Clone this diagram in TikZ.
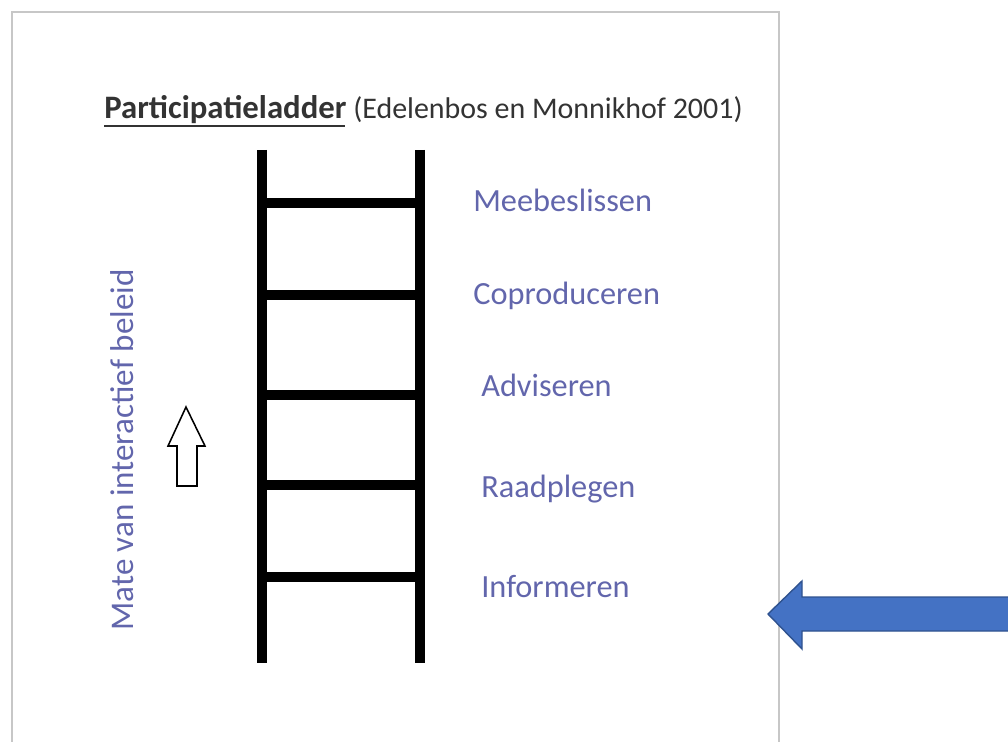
\documentclass[tikz,border=0pt]{standalone}
\usepackage{fontspec}
\setmainfont{Carlito}
\usetikzlibrary{positioning}

\definecolor{steptext}{RGB}{98,102,172}
\definecolor{arrowfill}{RGB}{68,114,196}
\definecolor{arrowline}{RGB}{47,82,143}

\tikzset{
  rail/.style={line width=7pt},
  rung/.style={line width=6.5pt},
  steplabel/.style={text=steptext, font=\fontsize{23}{27}\selectfont, anchor=base west, inner sep=0pt},
}

\begin{document}
\begin{tikzpicture}[x=0.025cm, y=-0.025cm]
  \useasboundingbox (0,0) rectangle (1008,742);

  % page with its shadow edge
  \draw[black!22, line width=1.3pt] (12,742) -- (12,12) -- (779,12) -- (779,742);

  % title
  \node[anchor=base west, inner sep=0pt, text=black!80] (title) at (104,119)
    {{\fontsize{23.3}{27}\selectfont\textbf{Participatieladder}}{\fontsize{21.3}{25}\selectfont\ (Edelenbos en Monnikhof 2001)}};
  \draw[black!80, line width=1.4pt] ([yshift=-5pt]title.base west) -- ++(241,0);

  % ladder
  \coordinate (rail_l_top) at (262,150);
  \coordinate (rail_l_bot) at (262,663);
  \coordinate (rail_r_top) at (420,150);
  \coordinate (rail_r_bot) at (420,663);
  \draw[rail] (rail_l_top) -- (rail_l_bot);
  \draw[rail] (rail_r_top) -- (rail_r_bot);
  \foreach \y in {203,295,395,485,577}
    \draw[rung] (262,\y) -- (420,\y);

  % steps
  \node[steplabel] (meebesl) at (473,211) {Meebeslissen};
  \node[steplabel] (coprod)  at (473,304) {Coproduceren};
  \node[steplabel] (advis)   at (481,396) {Adviseren};
  \node[steplabel] (raadpl)  at (481,497) {Raadplegen};
  \node[steplabel] (inform)  at (481,597) {Informeren};

  % side text and hollow arrow
  \node[text=steptext, font=\fontsize{23.5}{27}\selectfont, rotate=90, inner sep=0pt] (mate) at (122,450)
    {Mate van interactief beleid};
  \draw[line width=1.1pt, line join=miter] (186,407) -- (205,446) -- (197,446) -- (197,486)
    -- (177,486) -- (177,446) -- (168,446) -- cycle;

  % blue arrow
  \draw[fill=arrowfill, draw=arrowline, line width=1pt] (768,614) -- (802,581) -- (802,597)
    -- (1010,597) -- (1010,631) -- (802,631) -- (802,649) -- cycle;
\end{tikzpicture}
\end{document}
